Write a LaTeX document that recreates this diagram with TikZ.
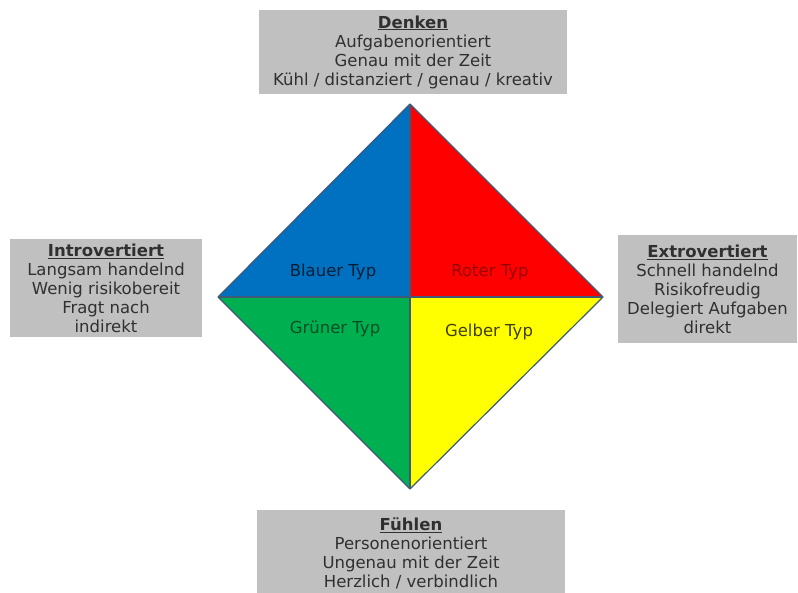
\documentclass[tikz,border=0pt]{standalone}
\usepackage{fontspec}
\setmainfont{DejaVu Sans}
\definecolor{boxgray}{HTML}{C0C0C0}
\definecolor{txtgray}{HTML}{303030}
\definecolor{qblue}{HTML}{0070C0}
\definecolor{qred}{HTML}{FF0000}
\definecolor{qgreen}{HTML}{00B050}
\definecolor{qyellow}{HTML}{FFFF00}
\definecolor{edgec}{HTML}{3E5A78}
\tikzset{
  infobox/.style={fill=boxgray, draw=none, align=center, text=txtgray,
    font=\fontsize{16.5}{19}\selectfont, inner sep=0pt},
  typlabel/.style={font=\fontsize{16.5}{19}\selectfont},
  quad/.style={draw=edgec, line width=1.2pt, line join=round}
}
\begin{document}
\begin{tikzpicture}[x=1pt,y=-1pt]
\useasboundingbox (0,0) rectangle (798,592);
\clip (0,0) rectangle (798,592);
% diamond
\coordinate (T) at (410,104);
\coordinate (B) at (410,489);
\coordinate (L) at (218,297);
\coordinate (R) at (603,297);
\coordinate (C) at (410,297);
\fill[qblue] (L) -- (T) -- (C) -- cycle;
\fill[qred] (T) -- (R) -- (C) -- cycle;
\fill[qgreen] (L) -- (C) -- (B) -- cycle;
\fill[qyellow] (C) -- (R) -- (B) -- cycle;
\draw[quad] (T) -- (R) -- (B) -- (L) -- cycle;
\draw[quad] (T) -- (B) (L) -- (R);
\node[typlabel, text=black!60!qblue!70!black] (blau) at (333,272) {Blauer Typ};
\node[typlabel, text=qred!60!black] (rot) at (490,272) {Roter Typ};
\node[typlabel, text=qgreen!45!black] (gruen) at (335,329) {Grüner Typ};
\node[typlabel, text=qyellow!25!black] (gelb) at (489,332) {Gelber Typ};
% boxes
\node[infobox, minimum width=308, minimum height=84] (denken) at (413,52)
  {\underline{\textbf{Denken}}\\Aufgabenorientiert\\Genau mit der Zeit\\Kühl / distanziert / genau / kreativ};
\node[infobox, minimum width=192, minimum height=98] (intro) at (106,288)
  {\underline{\textbf{Introvertiert}}\\Langsam handelnd\\Wenig risikobereit\\Fragt nach\\indirekt};
\node[infobox, minimum width=179, minimum height=108] (extro) at (707.5,289)
  {\underline{\textbf{Extrovertiert}}\\Schnell handelnd\\Risikofreudig\\Delegiert Aufgaben\\direkt};
\node[infobox, minimum width=308, minimum height=86, anchor=north] (fuehlen) at (411,510)
  {\underline{\textbf{Fühlen}}\\Personenorientiert\\Ungenau mit der Zeit\\Herzlich / verbindlich};
\end{tikzpicture}
\end{document}
